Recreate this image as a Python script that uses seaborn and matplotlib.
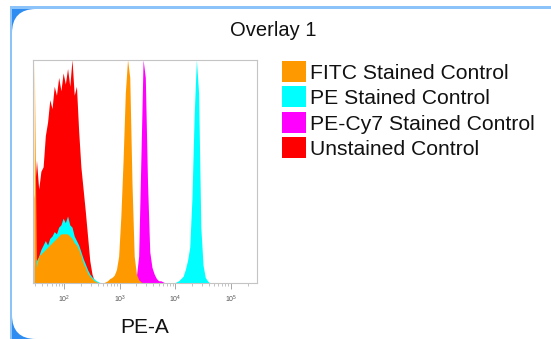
import numpy as np
import pandas as pd
import matplotlib
matplotlib.use("Agg")
import matplotlib.pyplot as plt
from matplotlib.patches import Rectangle, FancyBboxPatch
from matplotlib.transforms import IdentityTransform
import seaborn as sns

# ---------------------------------------------------------------------------
# Histogram data: log10(PE-A) bins of width BIN_W, heights in % of mode.
# Each population gives the log10 centre of its first bin and its heights.
# ---------------------------------------------------------------------------
LOG_MIN, LOG_MAX, BIN_W = 1.44, 5.48, 0.04

samples = ["FITC Stained Control", "PE Stained Control",
           "PE-Cy7 Stained Control", "Unstained Control"]
colors = ["#FF9900", "#00FFFF", "#FF00FF", "#FF0000"]

unstained_start = 1.46
unstained = [38, 55, 42, 50, 52, 66, 72, 82, 78, 88, 84, 92, 86, 94, 89, 96,
             88, 100, 84, 88, 68, 52, 42, 32, 21, 10, 4, 1]

fitc_dim_start = 1.46
fitc_dim = [100, 7, 12, 13, 14, 15, 16, 17, 18, 19, 20, 21, 22, 22, 22, 22,
            21, 20, 18, 17, 15, 12.5, 9, 7, 4.5, 3, 2, 1, 0.5]
fitc_pos_start = 2.74
fitc_pos = [0.5, 1, 2, 2.5, 3.5, 6, 12, 30, 55, 85, 100, 92, 45, 12, 4,
            1.5, 0.5]

pe_dim_start = 1.46
pe_dim = [8, 10, 12, 15, 17, 19, 17, 20, 21, 23, 22, 25, 26, 29, 27, 30, 26,
          25, 21, 19, 17, 14, 11, 8.5, 6, 4, 2.7, 1.8, 1, 0.5]
pe_pos_start = 4.02
pe_pos = [0.5, 1, 2, 3, 6, 10, 16, 38, 75, 100, 85, 25, 8, 2.5, 1]

pecy7_start = 3.26
pecy7 = [1, 3, 12, 55, 100, 92, 45, 14, 7, 4, 2, 1, 1, 0.5]

tick_exponents = [2, 3, 4, 5]

# ---------------------------------------------------------------------------
def bins_frame(start, heights, name):
    centres = start + BIN_W * np.arange(len(heights))
    return pd.DataFrame({"PE-A": 10 ** centres, "pct": heights, "sample": name})


frames = {
    "Unstained Control": [bins_frame(unstained_start, unstained, samples[3])],
    "PE-Cy7 Stained Control": [bins_frame(pecy7_start, pecy7, samples[2])],
    "PE Stained Control": [bins_frame(pe_dim_start, pe_dim, samples[1]),
                           bins_frame(pe_pos_start, pe_pos, samples[1])],
    "FITC Stained Control": [bins_frame(fitc_dim_start, fitc_dim, samples[0]),
                             bins_frame(fitc_pos_start, fitc_pos, samples[0])],
}
color_of = dict(zip(samples, colors))

sns.set_theme(style="white")
plt.rcParams["font.family"] = ["Liberation Sans", "DejaVu Sans"]
plt.rcParams["mathtext.default"] = "regular"

W, H, DPI = 551, 339, 100
fig = plt.figure(figsize=(W / DPI, H / DPI), dpi=DPI, facecolor="white")

# Rounded panel frame (pixel coordinates, origin bottom-left)
ident = IdentityTransform()
fig.add_artist(Rectangle((10, -20), 700, H - 7 + 20, transform=ident,
                         facecolor="#2f8cf0", edgecolor="none", zorder=-10))
fig.add_artist(Rectangle((10, H - 8.5), 700, 3, transform=ident,
                         facecolor="#8cc4fa", edgecolor="none", zorder=-8))
fig.add_artist(Rectangle((10, -20), 2, H - 7 + 20, transform=ident,
                         facecolor="#8cc4fa", edgecolor="none", zorder=-8))
fig.add_artist(FancyBboxPatch((12, 0), 700, H - 9,
                              boxstyle="round,pad=0,rounding_size=24",
                              transform=ident, facecolor="white",
                              edgecolor="none", zorder=-9))

ax = fig.add_axes([33 / W, 1 - 283 / H, 224 / W, 223.5 / H])
ax.patch.set_alpha(0)

for name in ["Unstained Control", "PE-Cy7 Stained Control",
             "PE Stained Control", "FITC Stained Control"]:
    df = pd.concat(frames[name], ignore_index=True)
    sns.histplot(data=df, x="PE-A", weights="pct", log_scale=True,
                 binwidth=BIN_W, binrange=(LOG_MIN, LOG_MAX),
                 element="poly", fill=True, alpha=1, linewidth=0,
                 color=color_of[name], ax=ax, legend=False)

ax.set_xlim(10 ** 1.438, 10 ** 5.472)
ax.set_ylim(0, 100)
ax.set_yticks([])
ax.set_ylabel("")
ax.set_xticks([10 ** e for e in tick_exponents])
ax.set_xticklabels([f"$10^{{{e}}}$" for e in tick_exponents])
ax.xaxis.set_minor_locator(matplotlib.ticker.LogLocator(base=10, subs=np.arange(2, 10)))
ax.xaxis.set_minor_formatter(matplotlib.ticker.NullFormatter())
ax.tick_params(axis="x", which="major", bottom=True, length=4, width=0.6,
               color="#999999", labelsize=5, labelcolor="#555555", pad=4)
ax.tick_params(axis="x", which="minor", bottom=True, length=2.5, width=0.5,
               color="#aaaaaa")
for sp in ax.spines.values():
    sp.set_visible(True)
    sp.set_color("#c4c4c4")
    sp.set_linewidth(0.8)
ax.set_xlabel("PE-A", fontsize=15, color="#111111", labelpad=9)

fig.text(273.5 / W, 1 - 30 / H, "Overlay 1", ha="center", va="center",
         fontsize=14.5, color="#111111")

# Legend: colour swatches and labels
row_centres = [71.5, 96.5, 122, 147.5]
for name, col, yc in zip(samples, colors, row_centres):
    fig.add_artist(Rectangle((282, H - yc - 10.5), 24, 21, transform=ident,
                             facecolor=col, edgecolor="none"))
    fig.text(310 / W, 1 - yc / H, name, ha="left", va="center_baseline",
             fontsize=15.2, color="#111111")

fig.savefig("out.png", dpi=DPI)
